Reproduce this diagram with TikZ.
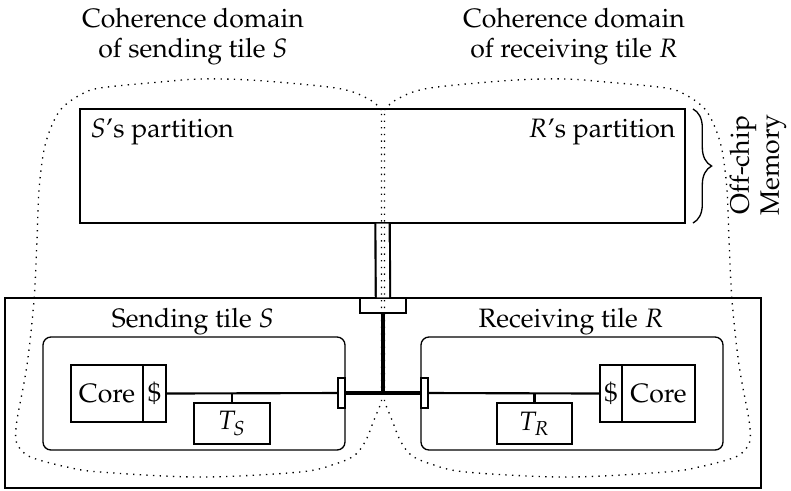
\documentclass[tikz,border=0pt]{standalone}
\usepackage[T1]{fontenc}
\usepackage{mathpazo}
\usetikzlibrary{fit,decorations.pathreplacing}
\begin{document}
\begin{tikzpicture}[x=0.376pt,y=-0.376pt,
  box/.style={draw, inner sep=0pt, line width=0.5pt},
  tile/.style={draw, rounded corners=3pt, inner sep=0pt, line width=0.5pt},
  dom/.style={dotted, line width=0.5pt},
  wire/.style={line width=0.8pt},
  bus/.style={line width=1.6pt},
  txt/.style={font=\fontsize{10}{11.3}\selectfont}]
\useasboundingbox (0,0) rectangle (791,490);
% titles
\node[txt, align=center] (tS) at (193,37) {Coherence domain\\of sending tile $S$};
\node[txt, align=center] (tR) at (574,37) {Coherence domain\\of receiving tile $R$};
% memory
\node[box, fit={(80,109) (685,223)}] (mem) {};
\node[txt, inner sep=0pt, anchor=base west] (sp) at (90,137) {$S$'s partition};
\node[txt, inner sep=0pt, anchor=base east] (rp) at (676,137) {$R$'s partition};
\draw[decorate, decoration={brace, amplitude=7pt}, line width=0.5pt] (693,109) -- (693,223);
\node[txt, rotate=90, align=center] (off) at (758,165) {Off-chip\\Memory};
% chip
\node[box, fit={(5,298) (761,488)}] (chip) {};
\node[box, fill=white, fit={(360,298) (406,313)}] (sw) {};
\draw[double, double distance=4.6pt, line width=0.8pt] (mem.south) -- (sw.north);
% sending tile
\node[tile, fit={(43,337) (345,450)}] (tileS) {};
\node[txt, anchor=base] (lS) at (193,327) {Sending tile $S$};
\node[box, fit={(71,365) (143,422)}] (coreS) {};
\node[txt] (coreSl) at (coreS.center) {Core};
\node[box, fit={(143,365) (166,422)}] (cS) {};
\node[txt] (cSl) at (cS.center) {\$};
\node[box, fill=white, fit={(338,378) (345,408)}] (pS) {};
\node[box, fit={(194,403) (270,444)}] (TS) {};
\node[txt] (TSl) at (TS.center) {$T_S$};
\draw[wire] (cS.east) -- (pS.west);
\draw[wire] (TS.north) -- (TS.north |- cS.east);
% receiving tile
\node[tile, fit={(421,337) (723,450)}] (tileR) {};
\node[txt, anchor=base] (lR) at (571,327) {Receiving tile $R$};
\node[box, fit={(622,365) (695,422)}] (coreR) {};
\node[txt] (coreRl) at (coreR.center) {Core};
\node[box, fit={(600,365) (622,422)}] (cR) {};
\node[txt] (cRl) at (cR.center) {\$};
\node[box, fill=white, fit={(421,378) (428,408)}] (pR) {};
\node[box, fit={(497,403) (572,444)}] (TR) {};
\node[txt] (TRl) at (TR.center) {$T_R$};
\draw[wire] (pR.east) -- (cR.west);
\draw[wire] (TR.north) -- (TR.north |- cR.west);
% coherence domains
\draw[dom] plot[smooth, tension=0.55] coordinates {(381.5,110) (372,101) (350,91) (320,86) (250,80) (200,79) (160,82) (100,88) (80,95) (62,108) (52,125) (44,150) (39,190) (37,240) (34,300) (27,365) (17,420) (16,440) (21,450) (33,458) (67,467) (100,472) (200,477) (300,472) (335,464) (355,455) (366,440) (374,420) (381.5,402)} -- cycle;
\begin{scope}[shift={(766,0)}, xscale=-1]
\draw[dom] plot[smooth, tension=0.55] coordinates {(381.5,110) (372,101) (350,91) (320,86) (250,80) (200,79) (160,82) (100,88) (80,95) (62,108) (52,125) (44,150) (39,190) (37,240) (34,300) (27,365) (17,420) (16,440) (21,450) (33,458) (67,467) (100,472) (200,477) (300,472) (335,464) (355,455) (366,440) (374,420) (381.5,402)} -- cycle;
\end{scope}
% bus
\draw[bus] (pS.east) -- (pR.west);
\draw[bus] (sw.south) -- (sw.south |- pS.east);
\end{tikzpicture}
\end{document}
